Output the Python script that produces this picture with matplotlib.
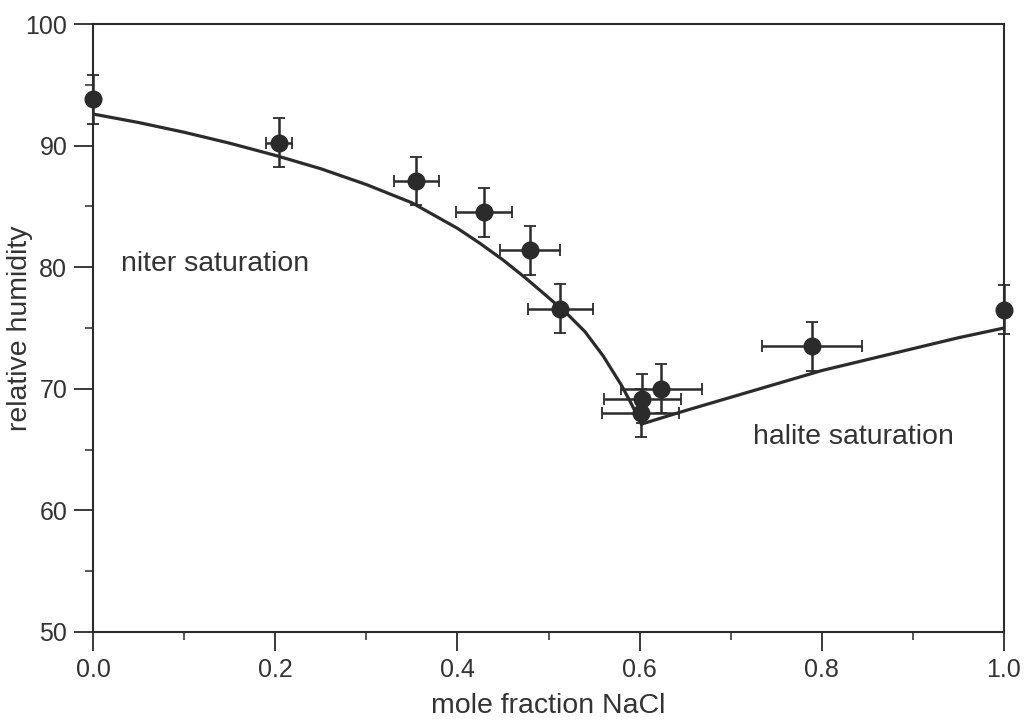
import numpy as np
import matplotlib
matplotlib.use("Agg")
import matplotlib.pyplot as plt

plt.rcParams["font.family"] = ["Liberation Sans", "DejaVu Sans"]

# measured points (mole fraction NaCl, relative humidity)
pt_x = [0.0, 0.204, 0.355, 0.429, 0.480, 0.513, 0.601, 0.603, 0.624, 0.789, 1.0]
pt_y = [93.8, 90.25, 87.1, 84.5, 81.4, 76.6, 68.0, 69.2, 70.0, 73.5, 76.5]
pt_xerr = [0.0, 0.014, 0.025, 0.031, 0.033, 0.036, 0.042, 0.042, 0.044, 0.055, 0.0]
pt_yerr = [2.0, 2.0, 2.0, 2.0, 2.0, 2.0, 2.0, 2.0, 2.0, 2.0, 2.0]

# niter saturation curve
niter_x = [0.0, 0.05, 0.1, 0.15, 0.2, 0.25, 0.3, 0.35, 0.4, 0.425, 0.45,
           0.475, 0.5, 0.52, 0.54, 0.56, 0.58, 0.59, 0.602]
niter_y = [92.6, 91.9, 91.1, 90.2, 89.2, 88.1, 86.8, 85.3, 83.2, 81.95, 80.6,
           79.1, 77.5, 76.2, 74.7, 72.7, 70.3, 68.9, 67.1]

# halite saturation curve
halite_x = [0.602, 0.65, 0.7, 0.75, 0.8, 0.85, 0.9, 0.95, 1.0]
halite_y = [67.1, 68.2, 69.3, 70.4, 71.5, 72.4, 73.3, 74.2, 75.0]

ink = "#2b2b2b"
txt = "#333333"

fig = plt.figure(figsize=(10.27, 7.22), dpi=100)
ax = fig.add_axes([0.0906, 0.1247, 0.887, 0.842])

ax.plot(niter_x, niter_y, color=ink, linewidth=2.3, zorder=2,
        solid_joinstyle="round")
ax.plot(halite_x, halite_y, color=ink, linewidth=2.3, zorder=2,
        solid_joinstyle="round")

ax.errorbar(pt_x, pt_y, xerr=pt_xerr, yerr=pt_yerr, fmt="o", color=ink,
            markersize=12, elinewidth=1.8, capsize=4, capthick=1.3,
            clip_on=False, zorder=3)

ax.text(0.031, 80.3, "niter saturation", fontsize=20.5, color=txt,
        va="center", ha="left")
ax.text(0.724, 66.0, "halite saturation", fontsize=20.5, color=txt,
        va="center", ha="left")

ax.set_xlim(0.0, 1.0)
ax.set_ylim(50, 100)
ax.set_xticks([0.0, 0.2, 0.4, 0.6, 0.8, 1.0])
ax.set_xticks(np.arange(0.1, 1.0, 0.2), minor=True)
ax.set_yticks([50, 60, 70, 80, 90, 100])
ax.set_yticks([55, 65, 75, 85, 95], minor=True)
ax.set_xticklabels(["0.0", "0.2", "0.4", "0.6", "0.8", "1.0"])

ax.tick_params(axis="both", which="major", direction="out", length=13.5,
               width=1.3, color=ink, labelsize=18, labelcolor=txt, pad=5)
ax.tick_params(axis="both", which="minor", direction="out", length=6,
               width=1.1, color=ink)

for s in ax.spines.values():
    s.set_color(ink)
    s.set_linewidth(1.5)

ax.set_xlabel("mole fraction NaCl", fontsize=20.5, color=txt)
ax.set_ylabel("relative humidity", fontsize=20.5, color=txt)
ax.xaxis.set_label_coords(0.5, -0.1)
ax.yaxis.set_label_coords(-0.066, 0.5)

fig.savefig("out.png", dpi=100)
